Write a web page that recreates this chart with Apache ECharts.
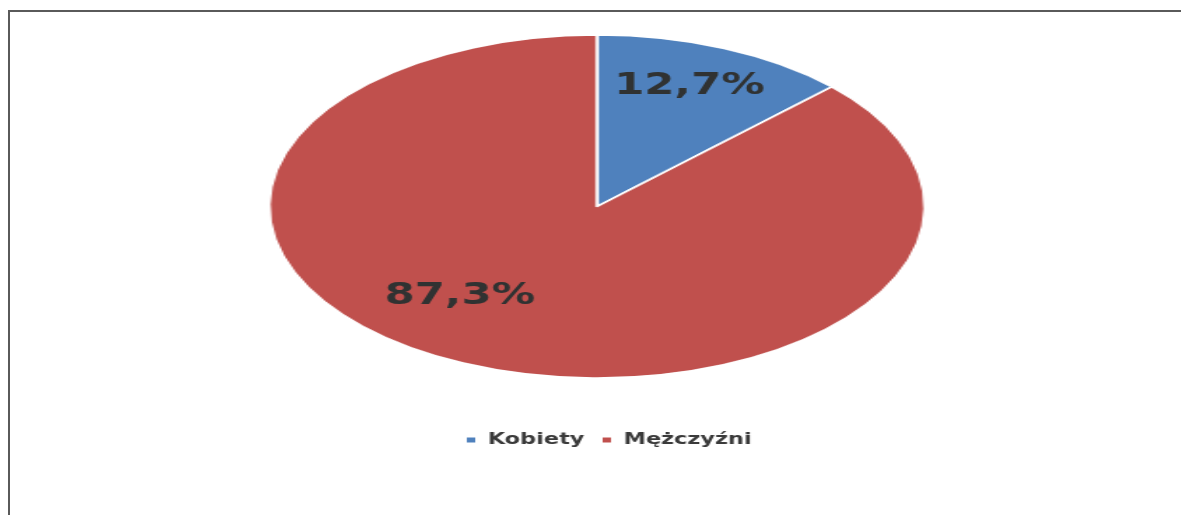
<!DOCTYPE html>
<html>
<head>
<meta charset="utf-8">
<script src="https://cdn.jsdelivr.net/npm/echarts@6/dist/echarts.min.js"></script>
<style>
  html, body { margin: 0; padding: 0; background: #ffffff; overflow: hidden; width: 1181px; height: 515px; position: relative; }
  #hline { position: absolute; left: 8px; top: 10px; width: 1173px; height: 2px; background: #5a5a5a; }
  #vline { position: absolute; left: 8px; top: 10px; width: 2px; height: 505px; background: #5a5a5a; }
  #clip { position: absolute; left: 0; top: 0; width: 1181px; height: 515px; overflow: hidden; }
  #pie { position: absolute; left: 0; top: 0; width: 1181px; height: 515px; transform: scaleX(1.912); transform-origin: 597px 0; }
  #over { position: absolute; left: 0; top: 0; width: 1181px; height: 515px; transform: scaleX(1.4); transform-origin: 597px 0; }
</style>
</head>
<body>
<div id="hline"></div>
<div id="vline"></div>
<div id="clip">
  <div id="pie"></div>
  <div id="over"></div>
</div>
<script>
const CATEGORIES = ['Kobiety', 'Mężczyźni'];
const VALUES = [12.7, 87.3];
const COLORS = ['#4F81BD', '#C0504D'];

const seriesData = CATEGORIES.map((name, i) => ({ name: name, value: VALUES[i] }));
const fmt = v => v.toFixed(1).replace('.', ',') + '%';

// Pie shapes (stretched horizontally into an ellipse)
const pieChart = echarts.init(document.getElementById('pie'), null, { renderer: 'canvas' });
pieChart.setOption({
  animation: false,
  color: COLORS,
  series: [{
    type: 'pie',
    silent: true,
    center: [597, 206.5],
    radius: [0, 171.5],
    startAngle: 90,
    clockwise: true,
    label: { show: false },
    labelLine: { show: false },
    itemStyle: { borderColor: '#ffffff', borderWidth: 1.6 },
    data: seriesData
  }]
});

// Labels and legend (text, mildly stretched)
const overChart = echarts.init(document.getElementById('over'), null, { renderer: 'canvas' });
const LABEL_ANCHORS = [[663, 86], [499, 296]];
overChart.setOption({
  animation: false,
  legend: {
    data: CATEGORIES.map((n, i) => ({ name: n, itemStyle: { color: COLORS[i], opacity: 1 } })),
    left: 499,
    top: 427,
    icon: 'rect',
    itemWidth: 6,
    itemHeight: 5,
    itemGap: 13,
    selectedMode: false,
    textStyle: { fontFamily: 'DejaVu Sans', fontWeight: 'bold', fontSize: 16, color: '#3a3a3a', padding: [0, 0, 0, 4] }
  },
  series: [{
    type: 'pie',
    silent: true,
    center: [597, 206.5],
    radius: [0, 171.5],
    startAngle: 90,
    itemStyle: { color: 'rgba(0,0,0,0)', borderWidth: 0 },
    labelLine: { show: false },
    label: {
      show: true,
      position: 'inside',
      formatter: p => fmt(p.value),
      fontFamily: 'DejaVu Sans',
      fontWeight: 'bold',
      fontSize: 31,
      color: '#303232'
    },
    labelLayout: p => ({ x: LABEL_ANCHORS[p.dataIndex][0], y: LABEL_ANCHORS[p.dataIndex][1], align: 'center', verticalAlign: 'middle' }),
    data: seriesData
  }]
});
</script>
</body>
</html>
